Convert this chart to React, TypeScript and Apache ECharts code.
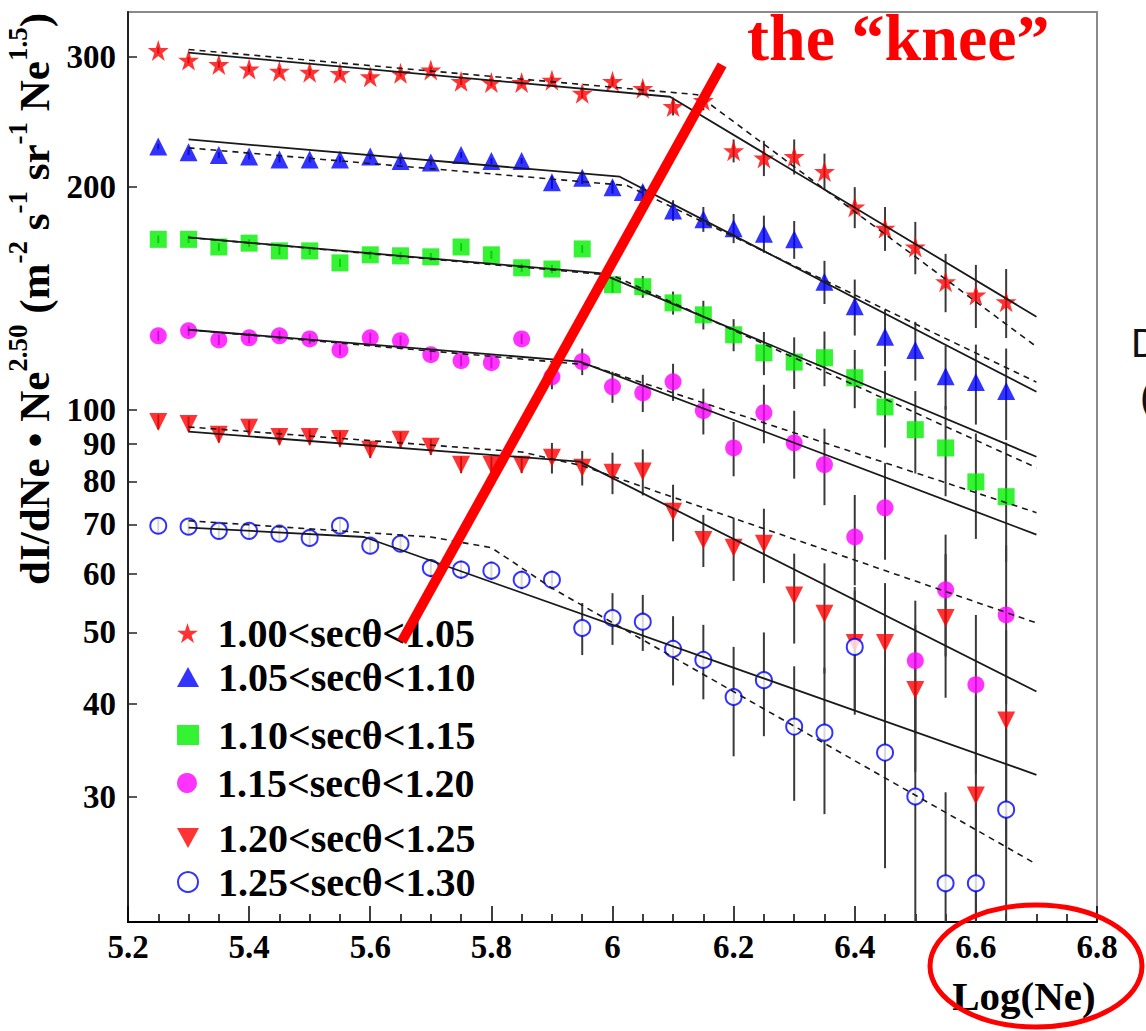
import React, { useEffect, useRef } from 'react';
import * as echarts from 'echarts';

// ---- data ----
const logNe = [5.25, 5.3, 5.35, 5.4, 5.45, 5.5, 5.55, 5.6, 5.65, 5.7, 5.75, 5.8, 5.85, 5.9, 5.95, 6.0, 6.05, 6.1, 6.15, 6.2, 6.25, 6.3, 6.35, 6.4, 6.45, 6.5, 6.55, 6.6, 6.65];

const seriesNames = ['1.00<secθ<1.05', '1.05<secθ<1.10', '1.10<secθ<1.15', '1.15<secθ<1.20', '1.20<secθ<1.25', '1.25<secθ<1.30'];

const sec100 = [306, 297, 293, 289, 287, 286, 285, 282, 285, 288, 278, 277, 277, 279, 268, 278, 272, 257, 262, 224, 219, 220, 210, 188, 176, 166, 149, 143, 140];
const sec100Err = [3, 3, 3, 3, 3, 3, 3, 3, 3, 3, 3, 3, 3, 3, 4, 4, 5, 7, 8, 8, 12, 12, 12, 12, 12, 13.5, 13.5, 14, 15];

const sec105 = [227, 223, 221, 220, 218, 218, 218, 220, 217, 216, 221, 217, 217, 203, 206, 200, 197, 186, 181, 176, 173, 170, 149, 138, 125.5, 120.5, 111, 109, 106];
const sec105Err = [2, 2, 2, 2, 2, 2, 2, 2, 2, 2, 2, 2, 2, 4, 4, 4, 4, 6, 7, 8, 10, 10, 10, 12, 11, 11, 11, 13.5, 15];

const sec110 = [170, 170, 166, 168, 164, 164, 158, 162, 161.5, 161, 166, 162, 155.6, 155, 165, 147.6, 146.7, 139.5, 134.4, 126.3, 119.4, 116, 117.6, 110.5, 100.9, 94, 88.8, 79.9, 76.3];
const sec110Err = [2, 2, 2, 2, 2, 2, 2, 2, 2, 2, 2, 2, 2, 2, 2, 3.7, 5, 5, 6, 6.3, 8, 9.3, 10, 10, 12, 12, 12.4, 13, 14];

const sec115 = [125.9, 127.9, 124.3, 125.1, 125.9, 124.7, 120.5, 125.1, 124, 118.7, 116.5, 115.8, 124.7, 110.8, 116.2, 107.4, 105.4, 109.1, 99.7, 88.8, 99.1, 90.2, 84.3, 67.3, 73.7, 45.8, 57.1, 42.5, 52.8];
const sec115Err = [2, 2, 2, 2, 2, 2, 2, 2, 2, 2, 2, 2, 2, 4.2, 4.8, 5.2, 6.1, 6.3, 7.1, 7.5, 9, 9.5, 10, 9.4, 11, 9.4, 10.7, 10.3, 12.8];

const sec120 = [96.3, 95.7, 92.5, 94.6, 91.9, 91.9, 91.3, 88.3, 91.1, 89.1, 84.3, 84.3, 84.3, 86.1, 83.5, 82.2, 82.5, 72.8, 66.7, 65.1, 65.9, 56.1, 53, 48.4, 48.4, 41.8, 52.3, 30.1, 38];
const sec120Err = [2.2, 2.2, 2.2, 2.2, 2.2, 2.2, 2.2, 2.2, 2.2, 2.2, 2.2, 2.2, 2.2, 4.1, 4.5, 5.3, 5.9, 6.4, 5.4, 6.4, 7.6, 7.8, 9, 9.2, 9.9, 9.4, 11.5, 11, 12.3];

const sec125 = [69.7, 69.5, 68.6, 68.6, 68, 67.1, 69.7, 65.5, 65.9, 61.1, 60.8, 60.6, 58.9, 58.9, 50.7, 52.3, 51.7, 47.5, 45.9, 40.9, 43.1, 37.3, 36.6, 47.8, 34.4, 30, 22.9, 22.9, 28.8];
const sec125Err = [1.7, 1.7, 1.7, 1.7, 1.7, 1.7, 1.7, 1.7, 1.7, 1.7, 1.7, 1.7, 1.7, 1.7, 4.1, 4.2, 4.5, 5.1, 5.3, 6.9, 6.9, 7.7, 8.2, 9.1, 10.4, 11, 7.5, 8, 9];

// broken power-law fits: solid and dashed
const fit100Solid = [[5.3, 304], [6.095, 265], [6.7, 133.6]];
const fit100Dashed = [[5.3, 307], [6.14, 266.7], [6.7, 121.7]];
const fit105Solid = [[5.3, 232], [6.012, 206.6], [6.7, 105.8]];
const fit105Dashed = [[5.3, 226], [6.024, 201], [6.7, 109]];
const fit110Solid = [[5.3, 171], [5.979, 153], [6.7, 86.4]];
const fit110Dashed = [[5.3, 171], [6.0, 152], [6.7, 83.5]];
const fit115Solid = [[5.3, 128.3], [5.946, 116.2], [6.7, 67.8]];
const fit115Dashed = [[5.3, 128.3], [5.96, 115], [6.7, 72.6]];
const fit120Solid = [[5.3, 93.4], [5.946, 85.1], [6.7, 41.6]];
const fit120Dashed = [[5.3, 94.8], [5.85, 87.7], [5.95, 84], [6.7, 51.5]];
const fit125Solid = [[5.3, 69.3], [5.59, 67.3], [6.7, 32.1]];
const fit125Dashed = [[5.3, 70.8], [5.7, 67.3], [5.8, 65.1], [5.9, 57.4], [6.7, 24.3]];

// annotation: the "knee" line (data coordinates)
const kneeLine = [[6.181, 292.7], [5.652, 48.6]];

const yTickValues = [30, 40, 50, 60, 70, 80, 90, 100, 200, 300];

// ---- styling ----
const SERIF = '"Liberation Serif", "Times New Roman", serif';
const STAR = 'path://M0,-50 L11.23,-15.45 L47.55,-15.45 L18.17,5.9 L29.39,40.45 L0,19.1 L-29.39,40.45 L-18.17,5.9 L-47.55,-15.45 L-11.23,-15.45 Z';
const DOWN_TRI = 'path://M0,0 L10,0 L5,9 Z';

const groups = [
  { values: sec100, err: sec100Err, solid: fit100Solid, dashed: fit100Dashed, color: '#ff0000', symbol: STAR, size: 21 },
  { values: sec105, err: sec105Err, solid: fit105Solid, dashed: fit105Dashed, color: '#0000ff', symbol: 'triangle', size: 18 },
  { values: sec110, err: sec110Err, solid: fit110Solid, dashed: fit110Dashed, color: '#00f000', symbol: 'rect', size: 17 },
  { values: sec115, err: sec115Err, solid: fit115Solid, dashed: fit115Dashed, color: '#ff00ff', symbol: 'circle', size: 17 },
  { values: sec120, err: sec120Err, solid: fit120Solid, dashed: fit120Dashed, color: '#ff0000', symbol: DOWN_TRI, size: 18 },
  { values: sec125, err: sec125Err, solid: fit125Solid, dashed: fit125Dashed, color: '#0000ff', symbol: 'emptyCircle', size: 16 },
];

const legendCenters = [631, 675, 733, 781, 836, 880];

export default function App() {
  const ref = useRef<HTMLDivElement>(null);
  useEffect(() => {
    if (!ref.current) return;
    const chart = echarts.init(ref.current, undefined, { renderer: 'svg' });
    const series: any[] = [];
    groups.forEach((g, gi) => {
      series.push({
        type: 'custom',
        name: seriesNames[gi] + ' err',
        clip: true,
        z: 1,
        silent: true,
        renderItem: (params: any, api: any) => {
          const x = api.value(0);
          const p1 = api.coord([x, api.value(1)]);
          const p2 = api.coord([x, api.value(2)]);
          return {
            type: 'line',
            shape: { x1: p1[0], y1: p1[1], x2: p2[0], y2: p2[1] },
            style: { stroke: '#3a3a3a', lineWidth: 2 },
          };
        },
        encode: { x: 0, y: [1, 2] },
        data: logNe.map((x, i) => [x, g.values[i] - g.err[i], g.values[i] + g.err[i]]),
      });
    });
    groups.forEach((g, gi) => {
      series.push({
        type: 'scatter',
        name: seriesNames[gi],
        symbol: g.symbol,
        symbolSize: g.size,
        z: 2,
        itemStyle: g.symbol === 'emptyCircle'
          ? { color: g.color, borderColor: g.color, borderWidth: 2 }
          : { color: g.color },
        data: logNe.map((x, i) => [x, g.values[i]]),
      });
    });
    groups.forEach((g, gi) => {
      series.push({
        type: 'line',
        name: seriesNames[gi] + ' fit',
        showSymbol: false,
        symbol: 'none',
        z: 3,
        silent: true,
        lineStyle: { color: '#1a1a1a', width: 1.8, type: 'solid' },
        data: g.solid,
      });
      series.push({
        type: 'line',
        name: seriesNames[gi] + ' fit2',
        showSymbol: false,
        symbol: 'none',
        z: 3,
        silent: true,
        lineStyle: { color: '#1a1a1a', width: 1.6, type: [6, 5] },
        data: g.dashed,
      });
    });
    series.push({
      type: 'line',
      name: 'knee',
      symbol: 'none',
      z: 5,
      silent: true,
      lineStyle: { color: '#ff0000', width: 10, cap: 'butt' },
      data: kneeLine,
    });

    const option: any = {
      animation: false,
      backgroundColor: '#ffffff',
      title: {
        text: 'the “knee”',
        left: 747,
        top: 4,
        padding: 0,
        textStyle: { color: '#ff0000', fontSize: 66, fontWeight: 'bold', fontFamily: SERIF },
      },
      grid: {
        left: 128, top: 12, width: 969, height: 910,
        outerBoundsMode: 'none', containLabel: false,
        show: true, borderColor: '#8a8a8a', borderWidth: 2, backgroundColor: 'transparent',
      },
      legend: seriesNames.map((n, i) => ({
        data: [n],
        left: 177,
        top: legendCenters[i] - 18,
        padding: 0,
        itemWidth: 22,
        itemHeight: 20,
        selectedMode: false,
        textStyle: { fontFamily: SERIF, fontWeight: 'bold', fontSize: 40, lineHeight: 36, color: '#000', padding: [0, 0, 0, 14] },
      })),
      xAxis: {
        type: 'value',
        min: 5.2,
        max: 6.8,
        interval: 0.2,
        axisLine: { lineStyle: { color: '#000', width: 2 } },
        axisTick: { inside: true, length: 16, lineStyle: { color: '#000', width: 1.5 } },
        minorTick: { show: true, splitNumber: 4, length: 8, lineStyle: { color: '#000', width: 1.5 } },
        splitLine: { show: false },
        axisLabel: { fontFamily: SERIF, fontWeight: 'bold', fontSize: 33, color: '#000', margin: 8 },
      },
      yAxis: {
        type: 'log',
        logBase: 10,
        min: 20.3,
        max: 345,
        name: '{m|dI/dNe • Ne}{s|2.50}{m| (m}{s|-2}{m| s}{s|-1}{m| sr}{s|-1}{m| Ne}{s|1.5}{m|)}',
        nameLocation: 'middle',
        nameGap: 52,
        nameTextStyle: {
          color: '#000',
          padding: [0, 0, 0, 336],
          rich: {
            m: { fontFamily: SERIF, fontWeight: 'bold', fontSize: 43, lineHeight: 60, color: '#000' },
            s: { fontFamily: SERIF, fontWeight: 'bold', fontSize: 27, verticalAlign: 'top', color: '#000' },
          },
        },
        axisLine: { show: true, lineStyle: { color: '#222', width: 2 } },
        axisTick: { show: true, inside: true, length: 9, customValues: yTickValues, lineStyle: { color: '#222', width: 1.5 } },
        minorTick: { show: false },
        splitLine: { show: false },
        axisLabel: { fontFamily: SERIF, fontWeight: 'bold', fontSize: 33, color: '#000', margin: 12, customValues: yTickValues },
      },
      graphic: [
        { type: 'text', x: 1024, y: 996, style: { text: 'Log(Ne)', fontFamily: SERIF, fontWeight: 'bold', fontSize: 41, fill: '#000', align: 'center', verticalAlign: 'middle' }, z: 100 },
        { type: 'ellipse', shape: { cx: 1036, cy: 966, rx: 106, ry: 61 }, style: { fill: 'none', stroke: '#ff0000', lineWidth: 5 }, z: 100 },
        { type: 'text', x: 1131, y: 343, style: { text: 'D', fontFamily: '"Liberation Sans", sans-serif', fontSize: 40, fill: '#111', verticalAlign: 'middle' }, z: 100 },
        { type: 'text', x: 1140, y: 397, style: { text: '(', fontFamily: '"Liberation Sans", sans-serif', fontSize: 40, fill: '#111', verticalAlign: 'middle' }, z: 100 },
      ],
      series,
    };
    chart.setOption(option);
    return () => chart.dispose();
  }, []);
  return <div ref={ref} style={{ position: 'fixed', left: 0, top: 0, width: 1146, height: 1031 }} />;
}
